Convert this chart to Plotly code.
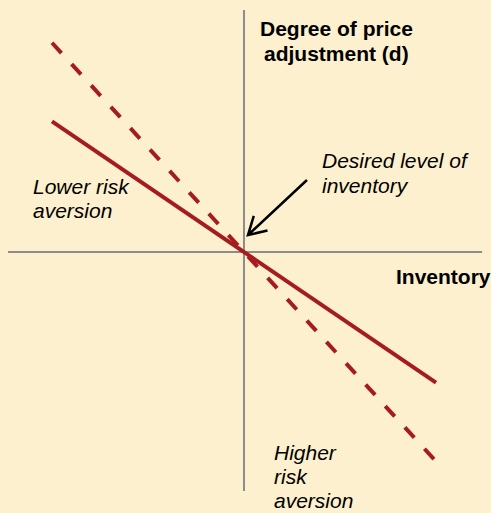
import plotly.graph_objects as go

# Data (conceptual units; crossing at the desired level of inventory)
inventory = [-1.0, 1.0]
d_lower_risk = [0.68, -0.68]    # lower risk aversion (solid)
d_higher_risk = [1.09, -1.09]   # higher risk aversion (dashed)

RED = "#A51C20"
GRAY = "#8C8C8C"
BG = "#FDF0CE"
W, H = 491, 513
FONT = "Liberation Sans, Arial, sans-serif"
FS = 21

fig = go.Figure()
fig.add_trace(go.Scatter(x=inventory, y=d_higher_risk, mode="lines",
                         line=dict(color=RED, width=4, dash="14px,15px"),
                         hoverinfo="skip", showlegend=False))
fig.add_trace(go.Scatter(x=inventory, y=d_lower_risk, mode="lines",
                         line=dict(color=RED, width=4),
                         hoverinfo="skip", showlegend=False))

# axes drawn as lines through origin
shapes = [
    dict(type="line", xref="x", yref="y", x0=0, x1=0, y0=-1.245, y1=1.26,
         line=dict(color=GRAY, width=2), layer="below"),
    dict(type="line", xref="x", yref="y", x0=-1.229, x1=1.24, y0=0, y1=0,
         line=dict(color=GRAY, width=2), layer="below"),
    # arrow pointing to the crossing
    dict(type="path", xref="x", yref="y",
         path="M 0.328 0.375 L 0.0208 0.0885 M 0.1224 0.112 L 0.0208 0.0885 L 0.051 0.188",
         line=dict(color="black", width=2.5)),
]

def px_ann(text, x, y, xanchor="left", bold=False, italic=False):
    t = text
    if bold:
        t = "<b>" + t + "</b>"
    if italic:
        t = "<i>" + t + "</i>"
    return dict(text=t, xref="paper", yref="paper", x=x / W, y=1 - y / H,
                xanchor=xanchor, yanchor="middle", showarrow=False,
                font=dict(family=FONT, size=FS, color="black"))

anns = [
    px_ann("Degree of price", 336, 28, "center", bold=True),
    px_ann("adjustment (d)", 336, 53, "center", bold=True),
    px_ann("Desired level of", 320, 160, italic=True),
    px_ann("inventory", 320, 185, italic=True),
    px_ann("Lower risk", 31, 186, italic=True),
    px_ann("aversion", 31, 210, italic=True),
    px_ann("Inventory", 394, 276, bold=True),
    px_ann("Higher", 272, 452, italic=True),
    px_ann("risk", 272, 476, italic=True),
    px_ann("aversion", 272, 500, italic=True),
]

fig.update_layout(
    width=W, height=H,
    margin=dict(l=0, r=0, t=0, b=0),
    paper_bgcolor=BG, plot_bgcolor=BG,
    xaxis=dict(range=[-1.2708, 1.2865], visible=False, fixedrange=True),
    yaxis=dict(range=[-1.359, 1.3125], visible=False, fixedrange=True),
    shapes=shapes, annotations=anns,
    showlegend=False,
)

fig.write_html("out.html", config={"displayModeBar": False},
               post_script="document.body.style.margin='0';document.body.style.overflow='hidden';")
